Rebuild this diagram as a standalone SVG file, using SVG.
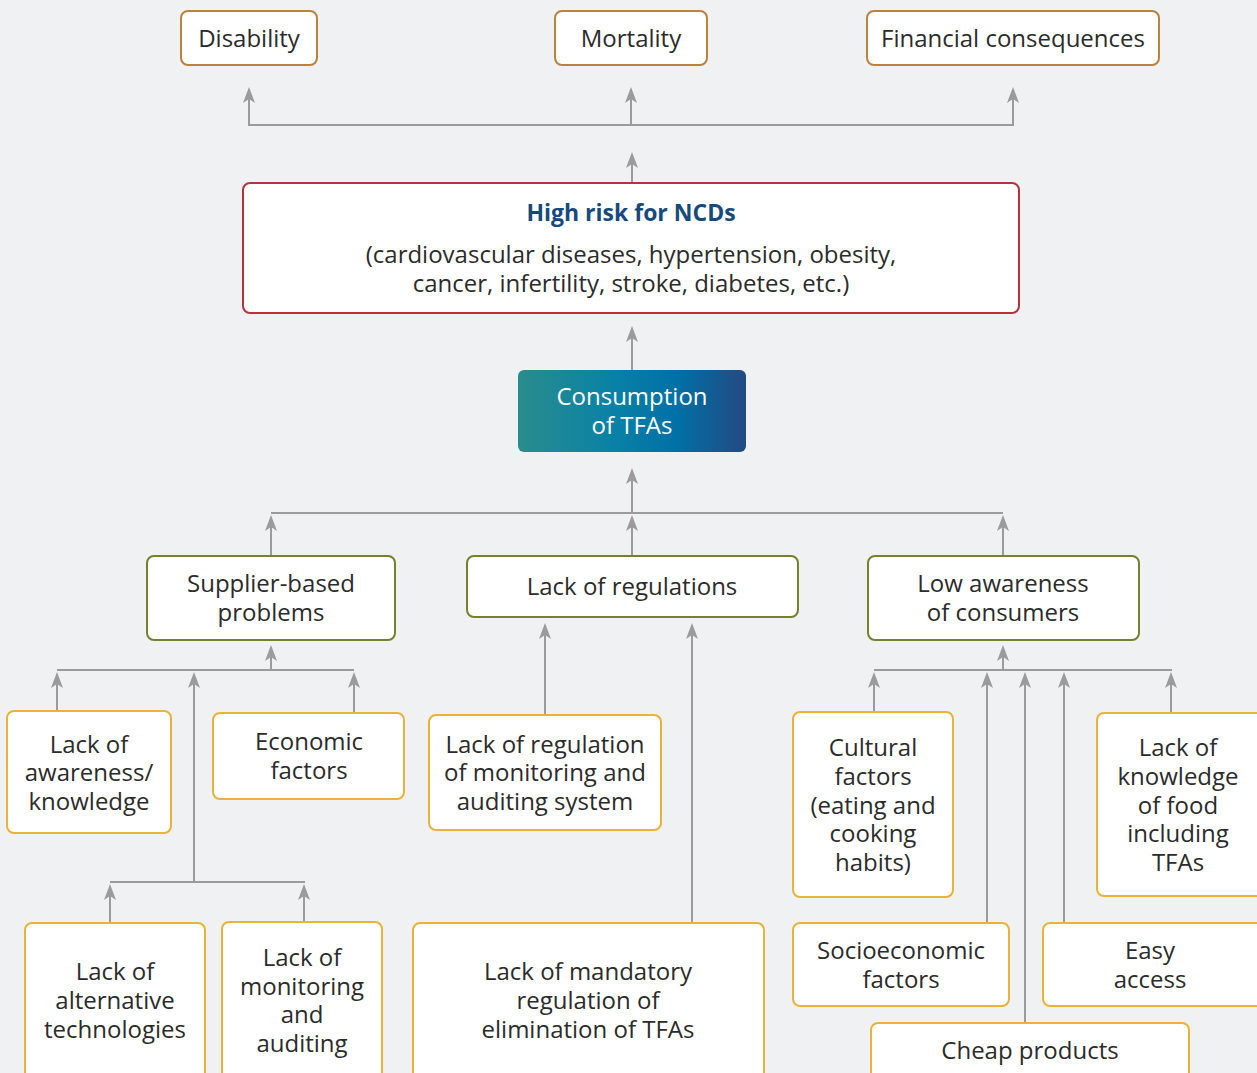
<svg xmlns="http://www.w3.org/2000/svg" width="1257" height="1073" viewBox="0 0 1257 1073">
<style>
.bg{fill:#f0f1f3}
.box{fill:#fff;stroke-width:2}
.top{stroke:#b9823f}
.red{stroke:#b8323c}
.olive{stroke:#76802e}
.gold{stroke:#e9b23a}
text{font-family:"Open Sans","Noto Sans","Liberation Sans",sans-serif;font-size:24px;fill:#2b2b2b;text-anchor:middle}
.title{font-weight:700;fill:#174a7c;font-size:23px}
.white{fill:#fff}
.ln{fill:none;stroke:#9b9b9d;stroke-width:2}
.ar{fill:none;stroke:#9b9b9d;stroke-width:2;marker-end:url(#ah)}
</style>
<defs>
<marker id="ah" markerUnits="userSpaceOnUse" markerWidth="16" markerHeight="12" viewBox="0 0 16 12" refX="12" refY="6" orient="auto">
<path d="M0,0 L16,6 L0,12 L4,6 z" fill="#9b9b9d"/>
</marker>
<linearGradient id="grad" x1="0" y1="0" x2="1" y2="0">
<stop offset="0" stop-color="#2a8c8c"/>
<stop offset="0.4" stop-color="#0a82a6"/>
<stop offset="0.7" stop-color="#0070a6"/>
<stop offset="1" stop-color="#234a82"/>
</linearGradient>
</defs>
<rect class="bg" x="0" y="0" width="1257" height="1073"/>

<g id="connectors">
<path class="ln" d="M249,125 H1013"/>
<path class="ar" d="M249,126 V91"/>
<path class="ar" d="M631,126 V91"/>
<path class="ar" d="M1013,126 V91"/>
<path class="ar" d="M632,183 V156"/>
<path class="ar" d="M632,370 V330"/>
<path class="ar" d="M632,513 V472"/>
<path class="ln" d="M271,513 H1003"/>
<path class="ar" d="M271,556 V519"/>
<path class="ar" d="M632,556 V519"/>
<path class="ar" d="M1003,556 V519"/>
<path class="ar" d="M271,670 V649"/>
<path class="ln" d="M57,670 H354"/>
<path class="ar" d="M57,711 V676"/>
<path class="ar" d="M194,882 V676"/>
<path class="ar" d="M354,713 V676"/>
<path class="ln" d="M110,882 H305"/>
<path class="ar" d="M110,923 V888"/>
<path class="ar" d="M304,922 V888"/>
<path class="ar" d="M545,716 V627"/>
<path class="ar" d="M692,923 V627"/>
<path class="ar" d="M1003,670 V649"/>
<path class="ln" d="M874,670 H1172"/>
<path class="ar" d="M874,712 V676"/>
<path class="ar" d="M987,923 V676"/>
<path class="ar" d="M1025,1023 V676"/>
<path class="ar" d="M1064,923 V676"/>
<path class="ar" d="M1171,713 V676"/>
</g>

<g id="disability"><rect class="box top" x="181" y="11" width="136" height="54" rx="7"/><text x="249" y="47">Disability</text></g>
<g id="mortality"><rect class="box top" x="555" y="11" width="152" height="54" rx="7"/><text x="631" y="47">Mortality</text></g>
<g id="financial"><rect class="box top" x="867" y="11" width="292" height="54" rx="7"/><text x="1013" y="47">Financial consequences</text></g>

<g id="high-risk"><rect class="box red" x="243" y="183" width="776" height="130" rx="7"/>
<text class="title" x="631" y="221">High risk for NCDs</text>
<text x="631" y="263">(cardiovascular diseases, hypertension, obesity,</text>
<text x="631" y="292">cancer, infertility, stroke, diabetes, etc.)</text></g>

<g id="consumption"><rect x="518" y="370" width="228" height="82" rx="6" fill="url(#grad)"/>
<text class="white" x="632" y="405">Consumption</text><text class="white" x="632" y="434">of TFAs</text></g>

<g id="supplier"><rect class="box olive" x="147" y="556" width="248" height="84" rx="7"/>
<text x="271" y="592">Supplier-based</text><text x="271" y="621">problems</text></g>
<g id="lack-regulations"><rect class="box olive" x="467" y="556" width="331" height="61" rx="7"/>
<text x="632" y="595">Lack of regulations</text></g>
<g id="low-awareness"><rect class="box olive" x="868" y="556" width="271" height="84" rx="7"/>
<text x="1003" y="592">Low awareness</text><text x="1003" y="621">of consumers</text></g>

<g id="lack-awareness"><rect class="box gold" x="7" y="711" width="164" height="122" rx="7"/>
<text x="89" y="753">Lack of</text><text x="89" y="781">awareness/</text><text x="89" y="810">knowledge</text></g>
<g id="economic"><rect class="box gold" x="213" y="713" width="191" height="86" rx="7"/>
<text x="309" y="750">Economic</text><text x="309" y="779">factors</text></g>
<g id="alt-tech"><rect class="box gold" x="25" y="923" width="180" height="170" rx="7"/>
<text x="115" y="980">Lack of</text><text x="115" y="1009">alternative</text><text x="115" y="1038">technologies</text></g>
<g id="monitoring"><rect class="box gold" x="222" y="922" width="160" height="170" rx="7"/>
<text x="302" y="966">Lack of</text><text x="302" y="995">monitoring</text><text x="302" y="1023">and</text><text x="302" y="1052">auditing</text></g>

<g id="reg-monitoring"><rect class="box gold" x="429" y="715" width="232" height="115" rx="7"/>
<text x="545" y="753">Lack of regulation</text><text x="545" y="781">of monitoring and</text><text x="545" y="810">auditing system</text></g>
<g id="mandatory"><rect class="box gold" x="413" y="923" width="351" height="170" rx="7"/>
<text x="588" y="980">Lack of mandatory</text><text x="588" y="1009">regulation of</text><text x="588" y="1038">elimination of TFAs</text></g>

<g id="cultural"><rect class="box gold" x="793" y="712" width="160" height="185" rx="7"/>
<text x="873" y="756">Cultural</text><text x="873" y="785">factors</text><text x="873" y="814">(eating and</text><text x="873" y="842">cooking</text><text x="873" y="871">habits)</text></g>
<g id="knowledge"><rect class="box gold" x="1097" y="713" width="175" height="183" rx="7"/>
<text x="1178" y="756">Lack of</text><text x="1178" y="785">knowledge</text><text x="1178" y="814">of food</text><text x="1178" y="842">including</text><text x="1178" y="871">TFAs</text></g>
<g id="socioeconomic"><rect class="box gold" x="793" y="923" width="216" height="83" rx="7"/>
<text x="901" y="959">Socioeconomic</text><text x="901" y="988">factors</text></g>
<g id="easy-access"><rect class="box gold" x="1043" y="923" width="229" height="83" rx="7"/>
<text x="1150" y="959">Easy</text><text x="1150" y="988">access</text></g>
<g id="cheap"><rect class="box gold" x="871" y="1023" width="318" height="70" rx="7"/>
<text x="1030" y="1059">Cheap products</text></g>
</svg>
